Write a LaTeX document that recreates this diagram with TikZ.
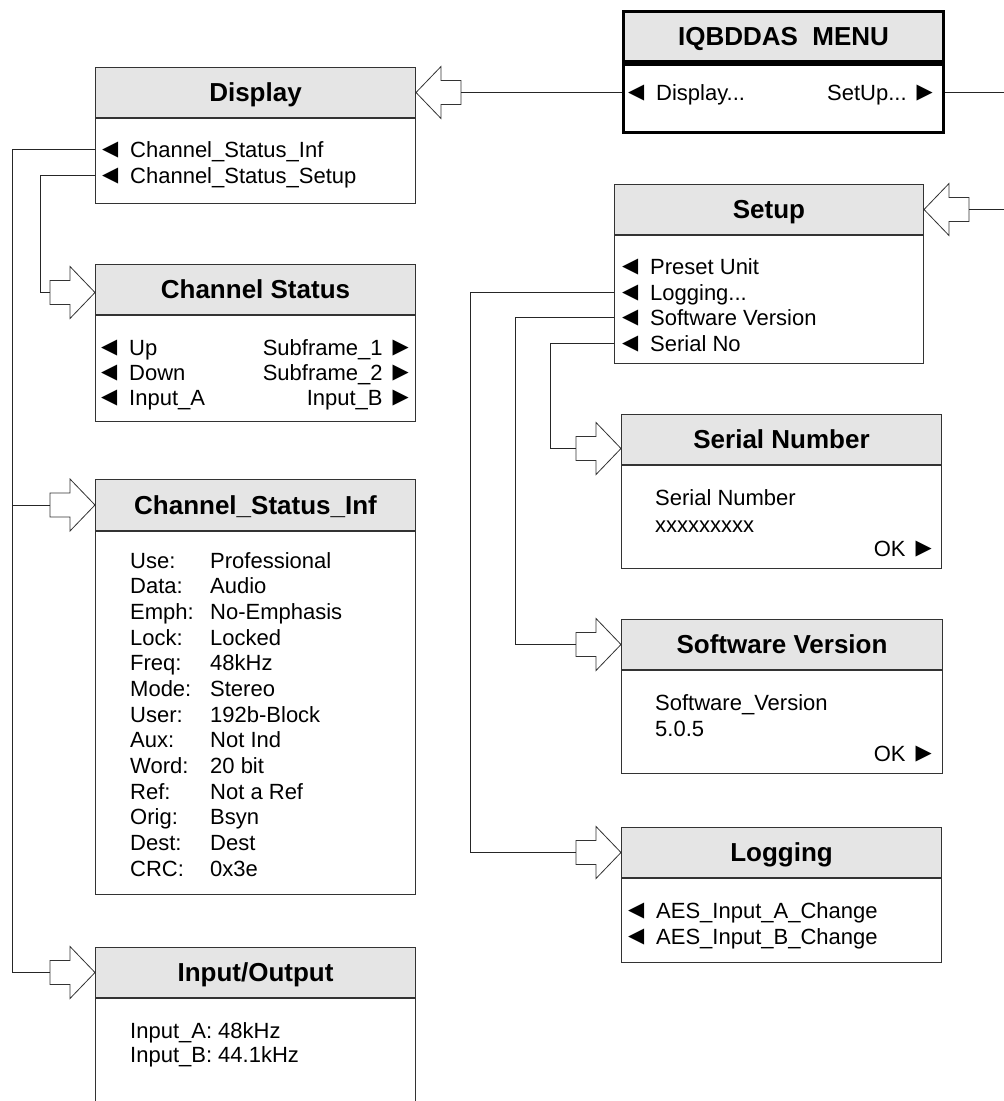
\documentclass[tikz,border=0pt]{standalone}
\usepackage{fontspec}
\setmainfont{Liberation Sans}
\newfontfamily\symf{DejaVu Sans}
\usetikzlibrary{calc}
\definecolor{boxc}{HTML}{333333}
\definecolor{hdrfill}{HTML}{E5E5E5}
\newcommand\ltri{\makebox[28pt][l]{\raisebox{1.6pt}{\symf\fontsize{21}{21}\selectfont ◀}}}
\newcommand\rtri{\hspace{10pt}\raisebox{1.6pt}{\symf\fontsize{21}{21}\selectfont ▶}}
\begin{document}
\begin{tikzpicture}[x=1pt,y=-1pt,
  hdr/.style={draw=boxc, fill=hdrfill, line width=1pt, minimum height=50pt, inner sep=0pt,
    text height=18.6pt, text depth=0pt, anchor=north west, font=\fontsize{26}{30}\selectfont\bfseries},
  bodyb/.style={draw=boxc, fill=white, line width=1pt, inner sep=0pt, anchor=north west},
  item/.style={inner sep=0pt, text height=16pt, text depth=0pt, anchor=base west, font=\fontsize{22}{25}\selectfont},
  itemr/.style={item, anchor=base east},
  conn/.style={draw=black!85, line width=0.9pt},
  blk/.style={draw=black!80, fill=white, line width=0.8pt, line join=miter},
  rblock/.pic={\draw[blk] (0,0) -- (-25,-26) -- (-25,-12) -- (-45,-12) -- (-45,12) -- (-25,12) -- (-25,26) -- cycle;
    \coordinate (-tail) at (-45,0);},
  lblock/.pic={\draw[blk] (0,0) -- (25,-26) -- (25,-12) -- (45,-12) -- (45,12) -- (25,12) -- (25,26) -- cycle;
    \coordinate (-tail) at (45,0);}
]
\useasboundingbox (0,0) rectangle (1004,1101);
\begin{scope}
\clip (0,0) rectangle (1004,1101);
\coordinate (lbus) at (12,0);
\coordinate (lbus2) at (40,0);
\coordinate (sb1) at (470,0);
\coordinate (sb2) at (515,0);
\coordinate (sb3) at (550,0);
\coordinate (rbus) at (1015,0);

% ---------- IQBDDAS MENU ----------
\node[hdr, line width=3pt, draw=black, minimum width=320pt] (menuH) at (622,10) {IQBDDAS~~MENU};
\node[bodyb, line width=3pt, draw=black, minimum width=320pt, minimum height=68pt] (menuB) at (menuH.south west) {};
\node[item] (menuI1) at (628,100) {\ltri Display...};
\node[itemr] (menuI2) at (933,100) {SetUp...\rtri};

% ---------- Display ----------
\node[hdr, minimum width=320pt] (dispH) at (95,67) {Display};
\node[bodyb, minimum width=320pt, minimum height=85pt] (dispB) at (dispH.south west) {};
\node[item] (dispI1) at (102,157) {\ltri Channel\_Status\_Inf};
\node[item] (dispI2) at (102,183) {\ltri Channel\_Status\_Setup};
\pic (dispA) at (dispH.east) {lblock};

% ---------- Channel Status ----------
\node[hdr, minimum width=320pt] (csH) at (95,264) {Channel Status};
\node[bodyb, minimum width=320pt, minimum height=106pt] (csB) at (csH.south west) {};
\node[item] (csL1) at (101,355) {\ltri Up};
\node[item] (csL2) at (101,380) {\ltri Down};
\node[item] (csL3) at (101,405) {\ltri Input\_A};
\node[itemr] (csR1) at (409,355) {Subframe\_1\rtri};
\node[itemr] (csR2) at (409,380) {Subframe\_2\rtri};
\node[itemr] (csR3) at (409,405) {Input\_B\rtri};
\pic (csA) at ($(csH.west)+(0,3)$) {rblock};

% ---------- Channel_Status_Inf ----------
\node[hdr, minimum width=320pt, minimum height=51pt] (csiH) at (95,479) {Channel\_Status\_Inf};
\node[bodyb, minimum width=320pt, minimum height=363pt] (csiB) at (csiH.south west) {};
\foreach \a/\b [count=\k from 0] in {Use:/Professional, Data:/Audio, Emph:/No-Emphasis, Lock:/Locked,
  Freq:/48kHz, Mode:/Stereo, User:/192b-Block, Aux:/Not Ind, Word:/20 bit, Ref:/Not a Ref,
  Orig:/Bsyn, Dest:/Dest, CRC:/0x3e}{
  \node[item] (csiL\k) at (130,568+25.67*\k) {\a};
  \node[item] (csiV\k) at (210,568+25.67*\k) {\b};
}
\pic (csiA) at (csiH.west) {rblock};

% ---------- Input/Output ----------
\node[hdr, minimum width=320pt] (ioH) at (95,947) {Input/Output};
\node[bodyb, minimum width=320pt, minimum height=160pt] (ioB) at (ioH.south west) {};
\node[item] (ioI1) at (130,1038) {Input\_A: 48kHz};
\node[item] (ioI2) at (130,1062) {Input\_B: 44.1kHz};
\pic (ioA) at (ioH.west) {rblock};

% ---------- Setup ----------
\node[hdr, minimum width=309pt] (setH) at (614,184) {Setup};
\node[bodyb, minimum width=309pt, minimum height=128pt] (setB) at (setH.south west) {};
\node[item] (setI1) at (622,274) {\ltri Preset Unit};
\node[item] (setI2) at (622,300) {\ltri Logging...};
\node[item] (setI3) at (622,325) {\ltri Software Version};
\node[item] (setI4) at (622,351) {\ltri Serial No};
\pic (setA) at (setH.east) {lblock};

% ---------- Serial Number ----------
\node[hdr, minimum width=320pt] (serH) at (621,414) {Serial Number};
\node[bodyb, minimum width=320pt, minimum height=103pt] (serB) at (serH.south west) {};
\node[item] (serI1) at (655,505) {Serial Number};
\node[item] (serI2) at (655,532) {xxxxxxxxx};
\node[itemr] (serOK) at (932,556) {OK\rtri};
\pic (serA) at ($(serH.west)+(0,9)$) {rblock};

% ---------- Software Version ----------
\node[hdr, minimum width=321pt] (swH) at (621,619) {Software Version};
\node[bodyb, minimum width=321pt, minimum height=103pt] (swB) at (swH.south west) {};
\node[item] (swI1) at (655,710) {Software\_Version};
\node[item] (swI2) at (655,736) {5.0.5};
\node[itemr] (swOK) at (932,761) {OK\rtri};
\pic (swA) at (swH.west) {rblock};

% ---------- Logging ----------
\node[hdr, minimum width=320pt] (logH) at (621,827) {Logging};
\node[bodyb, minimum width=320pt, minimum height=84pt] (logB) at (logH.south west) {};
\node[item] (logI1) at (628,918) {\ltri AES\_Input\_A\_Change};
\node[item] (logI2) at (628,944) {\ltri AES\_Input\_B\_Change};
\pic (logA) at (logH.west) {rblock};

% ---------- connectors ----------
\draw[conn] (dispA-tail) -- (dispA-tail -| menuB.west);
\draw[conn] (dispA-tail -| menuB.east) -| (rbus |- setA-tail) -- (setA-tail);
\draw[conn] (dispI1.west -| dispB.west) -| (lbus |- ioA-tail) -- (ioA-tail);
\draw[conn] (csiA-tail) -- (csiA-tail -| lbus);
\draw[conn] (dispI2.west -| dispB.west) -| (lbus2 |- csA-tail) -- (csA-tail);
\draw[conn] (setI2.west -| setB.west) -| (sb1 |- logA-tail) -- (logA-tail);
\draw[conn] (setI3.west -| setB.west) -| (sb2 |- swA-tail) -- (swA-tail);
\draw[conn] (setI4.west -| setB.west) -| (sb3 |- serA-tail) -- (serA-tail);
\end{scope}
\end{tikzpicture}
\end{document}
